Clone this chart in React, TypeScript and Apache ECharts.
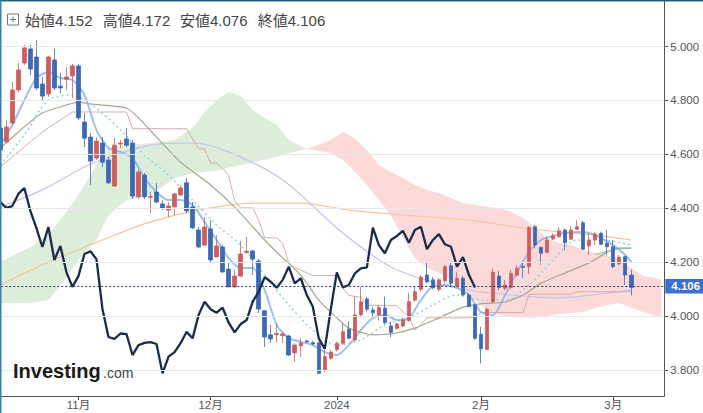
import React, { useEffect, useRef } from "react";
import * as echarts from "echarts";

// ---- categories (trading days as shown on the chart) ----
const monthDays: [string, number[]][] = [
  ["2023-10", [13, 16, 17, 18, 19, 20, 23, 24, 25, 26, 27, 30, 31]],
  ["2023-11", [1, 2, 3, 6, 7, 8, 9, 10, 13, 14, 15, 16, 17, 20, 21, 22, 23, 24, 27, 28, 29, 30]],
  ["2023-12", [1, 4, 5, 6, 7, 8, 11, 12, 13, 14, 15, 18, 19, 20, 21, 22, 25, 26, 27, 28, 29]],
  ["2024-01", [1, 2, 3, 4, 5, 8, 9, 10, 11, 12, 15, 16, 17, 18, 19, 21, 22, 23, 24, 25, 26, 29, 30, 31]],
  ["2024-02", [1, 2, 4, 5, 6, 7, 8, 9, 12, 13, 14, 15, 16, 19, 20, 21, 22, 23, 26, 27, 28, 29]],
  ["2024-03", [1, 4, 5, 6, 7, 8, 11, 12, 13]],
];
const categories: string[] = monthDays.flatMap(([ym, days]) =>
  days.map((d) => `${ym}-${String(d).padStart(2, "0")}`)
);

// ---- candles ----
const opens = [4.697,4.646,4.716,4.839,4.939,4.991,4.961,4.861,4.824,4.950,
4.853,4.879,4.891,4.928,4.720,4.664,4.586,4.642,4.579,4.482,
4.638,4.657,4.642,4.442,4.523,4.441,4.460,4.416,4.393,4.405,
4.449,4.494,4.405,4.319,4.263,4.323,4.219,4.256,4.174,4.108,
4.148,4.235,4.241,4.204,4.019,3.930,3.931,3.928,3.926,3.863,
3.889,3.907,3.901,3.901,3.800,3.843,3.876,3.899,3.951,3.911,
4.004,4.063,4.022,4.004,4.029,3.963,3.954,3.963,3.983,4.059,
4.099,4.152,4.134,4.099,4.131,4.186,4.111,4.140,4.078,4.041,
3.932,3.876,4.053,4.148,4.103,4.106,4.152,4.185,4.183,4.331,
4.255,4.236,4.286,4.294,4.319,4.285,4.322,4.346,4.260,4.282,
4.307,4.270,4.257,4.193,4.220,4.152];
const closes = [4.616,4.701,4.839,4.913,4.995,4.917,4.846,4.816,4.961,4.846,
4.846,4.887,4.928,4.735,4.660,4.575,4.649,4.571,4.494,4.634,
4.642,4.634,4.445,4.534,4.442,4.443,4.423,4.401,4.408,4.453,
4.475,4.390,4.327,4.256,4.330,4.208,4.260,4.163,4.108,4.148,
4.230,4.240,4.211,4.026,3.922,3.915,3.935,3.933,3.855,3.892,
3.900,3.903,3.896,3.787,3.849,3.866,3.899,3.941,3.917,4.004,
4.053,4.025,4.012,4.031,3.975,3.939,3.970,3.985,4.053,4.090,
4.144,4.127,4.105,4.134,4.183,4.121,4.140,4.078,4.035,3.917,
3.878,4.025,4.162,4.106,4.115,4.158,4.177,4.180,4.328,4.263,
4.233,4.282,4.297,4.316,4.272,4.319,4.331,4.248,4.282,4.304,
4.266,4.257,4.183,4.218,4.152,4.106];
const lows = [4.605,4.642,4.709,4.831,4.931,4.894,4.839,4.801,4.813,4.839,
4.827,4.839,4.809,4.727,4.627,4.486,4.579,4.553,4.490,4.479,
4.623,4.627,4.434,4.434,4.434,4.382,4.419,4.393,4.367,4.375,
4.445,4.382,4.323,4.252,4.260,4.200,4.219,4.160,4.108,4.104,
4.145,4.234,4.152,4.011,3.885,3.900,3.900,3.900,3.852,3.829,
3.848,3.900,3.892,3.785,3.792,3.837,3.868,3.892,3.915,3.905,
3.998,4.016,4.000,3.983,3.970,3.921,3.950,3.959,3.979,4.053,
4.090,4.121,4.099,4.090,4.121,4.106,4.106,4.072,4.032,3.911,
3.824,3.874,4.047,4.096,4.096,4.099,4.146,4.141,4.156,4.251,
4.189,4.233,4.282,4.292,4.245,4.282,4.319,4.245,4.226,4.263,
4.263,4.226,4.177,4.189,4.115,4.076];
const highs = [4.708,4.727,4.868,4.939,5.006,5.006,5.024,4.887,4.965,4.991,
4.902,4.924,4.935,4.935,4.753,4.679,4.664,4.664,4.590,4.660,
4.653,4.698,4.653,4.542,4.531,4.460,4.494,4.430,4.423,4.457,
4.486,4.512,4.423,4.330,4.367,4.356,4.300,4.263,4.197,4.171,
4.278,4.293,4.245,4.211,4.022,3.967,3.974,3.937,3.930,3.900,
3.918,3.911,3.907,3.903,3.874,3.874,3.905,3.970,3.980,4.072,
4.108,4.072,4.033,4.041,4.072,3.979,3.975,3.993,4.085,4.109,
4.152,4.201,4.144,4.141,4.189,4.201,4.164,4.148,4.084,4.045,
3.960,4.032,4.177,4.168,4.134,4.171,4.189,4.197,4.334,4.338,
4.257,4.294,4.307,4.329,4.325,4.334,4.356,4.354,4.307,4.313,
4.313,4.319,4.282,4.226,4.223,4.172];

// chikou span: closes plotted 26 sessions back
const chikouShift = 26;

// ---- Ichimoku cloud (senkou spans) ----
const kumoSlot = [0,5,8,10,13,16,18,21,25,29,32,34,36,38,40,42,44,46,48,51,
55,57,59,61,63,65,67,69,71,73,75,77,79,81,83,85,87,89,91,93,95,97,99,101,103,105,107,109,110];
const senkouA = [4.200,4.256,4.301,4.356,4.449,4.560,4.623,4.635,4.642,4.653,4.698,4.757,4.801,4.831,4.816,4.764,4.735,4.709,4.653,4.620,
4.605,4.579,4.534,4.486,4.430,4.375,4.289,4.215,4.178,4.160,4.134,4.104,4.059,4.022,4.004,3.996,3.993,3.993,4.000,4.007,4.011,4.015,4.030,4.041,4.048,4.030,4.015,4.000,3.996];
const senkouB = [4.048,4.048,4.059,4.115,4.208,4.282,4.375,4.430,4.449,4.512,4.530,4.535,4.540,4.550,4.560,4.570,4.580,4.592,4.605,4.620,
4.653,4.683,4.660,4.616,4.560,4.534,4.512,4.486,4.468,4.456,4.438,4.419,4.412,4.404,4.401,4.386,4.364,4.327,4.289,4.271,4.263,4.245,4.234,4.226,4.208,4.178,4.148,4.141,4.134];

// ---- indicator lines: [slot, value] ----
const kijun = [[0,4.553],[7,4.683],[12,4.757],[21,4.757],[22,4.695],[31,4.695],[32,4.657],[33,4.620],[34,4.620],[35,4.567],[36,4.567],[37,4.548],[38,4.522],[39,4.428],[40,4.401],[42,4.401],[43,4.355],[44,4.290],[46,4.290],[47,4.270],[48,4.197],[49,4.180],[50,4.170],[52,4.150],[56,4.150],[57,4.104],[58,4.076],[60,4.070],[61,4.040],[66,4.039],[67,4.015],[68,3.998],[69,3.947],[70,3.968],[71,3.993],[78,3.993],[79,3.997],[80,4.013],[87,4.013],[88,4.079],[89,4.081],[95,4.081],[96,4.090],[105,4.090]];
const lightBlue = [[0,4.635],[2,4.709],[4,4.801],[6,4.883],[8,4.905],[10,4.883],[12,4.876],[14,4.820],[16,4.690],[18,4.623],[20,4.609],[22,4.586],[24,4.512],[26,4.460],[28,4.430],[30,4.430],[32,4.412],[34,4.349],[36,4.282],[38,4.215],[40,4.178],[42,4.178],[44,4.096],[46,3.967],[48,3.918],[50,3.904],[52,3.892],[54,3.866],[56,3.855],[58,3.892],[60,3.948],[62,3.993],[64,4.004],[66,3.985],[68,3.993],[70,4.059],[72,4.111],[74,4.115],[76,4.104],[78,4.078],[80,4.015],[82,4.004],[84,4.078],[86,4.163],[88,4.237],[90,4.282],[92,4.297],[94,4.308],[96,4.312],[98,4.308],[100,4.289],[102,4.263],[104,4.226],[105,4.200]];
const cyanDotted = [[0,4.560],[4,4.672],[8,4.801],[12,4.820],[16,4.771],[20,4.690],[24,4.597],[28,4.523],[32,4.430],[36,4.338],[40,4.263],[44,4.152],[48,4.041],[52,3.948],[56,3.892],[60,3.911],[64,3.967],[68,3.993],[72,4.041],[76,4.078],[80,4.059],[84,4.059],[88,4.115],[92,4.208],[96,4.282],[100,4.282],[105,4.263]];
const olive = [[0,4.623],[3,4.683],[7,4.753],[11,4.783],[13,4.794],[15,4.787],[21,4.772],[23,4.735],[26,4.664],[30,4.571],[35,4.486],[39,4.404],[44,4.282],[47,4.215],[50,4.152],[53,4.059],[56,3.993],[58,3.955],[62,3.930],[65,3.933],[69,3.955],[73,3.993],[77,4.033],[80,4.045],[84,4.052],[87,4.078],[90,4.122],[94,4.160],[98,4.197],[101,4.237],[103,4.252],[105,4.252]];
const greenShort = [[99,4.228],[101,4.240],[103,4.250],[105,4.252]];
const lavender = [[0,4.404],[7,4.468],[14,4.553],[18,4.590],[25,4.634],[32,4.642],[38,4.609],[47,4.505],[57,4.308],[65,4.182],[72,4.126],[78,4.096],[85,4.078],[93,4.067],[100,4.082],[105,4.096]];
const orange = [[0,4.115],[8,4.200],[17,4.282],[25,4.349],[33,4.393],[42,4.419],[50,4.419],[58,4.393],[69,4.371],[78,4.356],[86,4.330],[93,4.312],[100,4.297],[105,4.282]];

// ---- axes ----
const yTicks = [3.8, 4.0, 4.2, 4.4, 4.6, 4.8, 5.0];

const FONT = "'Liberation Sans', 'Noto Sans CJK JP', sans-serif";

export default function App() {
  const ref = useRef<HTMLDivElement>(null);

  useEffect(() => {
    if (!ref.current) return;
    const chart = echarts.init(ref.current, null, { renderer: "svg" });

    const n = closes.length;
    const candles = opens.map((o, i) => [o, closes[i], lows[i], highs[i]]);
    const chikou = closes.slice(chikouShift).map((c, i) => [i, c]);
    const last = n - 1;

    // month label indices
    const labelIdx = new Set<number>();
    categories.forEach((c, i) => {
      if (i > 0 && c.slice(0, 7) !== categories[i - 1].slice(0, 7)) labelIdx.add(i);
    });
    const showAt = (i: number) => labelIdx.has(i);
    const fmtCat = (v: string) => {
      const m = parseInt(v.slice(5, 7), 10);
      return m === 1 ? v.slice(0, 4) : `${m}月`;
    };

    const rows = kumoSlot.map((s, i) => [s, senkouA[i], senkouB[i]]);
    const greenRows = rows.filter((r) => r[1] >= r[2]);
    const redRows = rows.filter((r) => r[2] >= r[1]);

    const lineBase = (name: string, data: number[][], color: string, width: number, extra: any = {}) => ({
      type: "line",
      name,
      data,
      showSymbol: false,
      symbol: "none",
      silent: true,
      z: 2,
      lineStyle: { color, width },
      ...extra,
    });

    const option: any = {
      animation: false,
      backgroundColor: "#ffffff",
      grid: {
        left: -2.7,
        right: 38.7,
        top: 1,
        bottom: 17,
        outerBoundsMode: "none",
        containLabel: false,
      },
      xAxis: {
        type: "category",
        data: categories,
        boundaryGap: true,
        axisLine: { show: true, lineStyle: { color: "#555", width: 1 } },
        axisTick: {
          show: true,
          interval: (i: number) => showAt(i),
          alignWithLabel: true,
          length: 4,
          lineStyle: { color: "#555" },
        },
        axisLabel: {
          interval: (i: number) => showAt(i),
          formatter: fmtCat,
          color: "#555",
          fontSize: 11.5,
          fontFamily: FONT,
          margin: 3,
        },
        splitLine: { show: false },
      },
      yAxis: {
        type: "value",
        position: "right",
        min: 3.703,
        max: 5.169,
        axisLine: { show: true, lineStyle: { color: "#555", width: 1 } },
        axisTick: { show: true, customValues: yTicks, length: 4, lineStyle: { color: "#555" } },
        axisLabel: {
          customValues: yTicks,
          formatter: (v: number) => v.toFixed(3),
          color: "#555",
          fontSize: 11.5,
          fontFamily: FONT,
          margin: 6,
        },
        splitLine: { show: false },
      },
      series: [
        {
          type: "custom",
          name: "kumo",
          silent: true,
          z: 1,
          data: [[0, 4]],
          encode: { x: 0, y: 1 },
          renderItem: (_params: any, api: any) => {
            const poly = (rs: number[][], top: number, bot: number) => {
              const pts = rs.map((r) => api.coord([r[0], r[top]]));
              for (let i = rs.length - 1; i >= 0; i--) pts.push(api.coord([rs[i][0], rs[i][bot]]));
              return pts;
            };
            return {
              type: "group",
              children: [
                { type: "polygon", shape: { points: poly(greenRows, 1, 2) }, style: { fill: "#dcedda" } },
                { type: "polygon", shape: { points: poly(redRows, 2, 1) }, style: { fill: "#fcdada" } },
              ],
            };
          },
        },
        lineBase("orange", orange, "#f2c79c", 1.2, {
          smooth: 0.3,
          markLine: {
            silent: true,
            symbol: ["none", "none"],
            label: { show: false },
            lineStyle: { color: "#e8e8e8", width: 1, type: "solid" },
            data: yTicks.map((v) => ({ yAxis: v })),
          },
        }),
        lineBase("lavender", lavender, "#c9c2ec", 1.2, { smooth: 0.3 }),
        lineBase("kijun", kijun, "#d9abab", 1),
        lineBase("olive", olive, "#a8a68a", 1.2, { smooth: 0.2 }),
        lineBase("green", greenShort, "#8ccb8c", 1.2),
        lineBase("cyan", cyanDotted, "#86d6e8", 1.5, { smooth: 0.3, lineStyle: { color: "#86d6e8", width: 1.5, type: [2, 3] } }),
        lineBase("lightBlue", lightBlue, "rgba(135,175,235,0.8)", 2, { smooth: 0.25 }),
        {
          type: "candlestick",
          name: "price",
          data: candles,
          barWidth: 4,
          z: 3,
          silent: true,
          itemStyle: {
            color: "#cf5d5d",
            color0: "#3d69b6",
            borderColor: "#cf5d5d",
            borderColor0: "#3d69b6",
            borderWidth: 0.8,
          },
          markLine: {
            silent: true,
            symbol: ["none", "none"],
            lineStyle: { color: "#2b3d6b", width: 1, type: [2, 2] },
            label: {
              show: true,
              position: "end",
              distance: 1,
              formatter: closes[last].toFixed(3),
              backgroundColor: "#3c6fd4",
              color: "#ffffff",
              fontWeight: "bold",
              fontSize: 11.5,
              fontFamily: FONT,
              padding: [2, 6, 1, 6],
            },
            data: [{ yAxis: closes[last] }],
          },
        },
        {
          type: "line",
          name: "chikou",
          data: chikou,
          showSymbol: false,
          symbol: "none",
          silent: true,
          z: 4,
          lineStyle: { color: "#1b2b4b", width: 2.3 },
        },
      ],
      graphic: [
        { type: "rect", shape: { x: 0, y: 0, width: 703, height: 1.5 }, style: { fill: "#2a5d7c" }, z: 100 },
        { type: "rect", shape: { x: 0, y: 0, width: 1.5, height: 413 }, style: { fill: "#3b7fb3" }, z: 100 },
        {
          type: "rect",
          shape: { x: 7.5, y: 14, width: 11, height: 11 },
          style: { fill: "none", stroke: "#777", lineWidth: 1 },
          z: 100,
        },
        { type: "line", shape: { x1: 10, y1: 19.5, x2: 16, y2: 19.5 }, style: { stroke: "#777", lineWidth: 1 }, z: 100 },
        { type: "line", shape: { x1: 13, y1: 16.5, x2: 13, y2: 22.5 }, style: { stroke: "#777", lineWidth: 1 }, z: 100 },
        ...[
          ["始値", opens[last], 25],
          ["高値", highs[last], 102.7],
          ["安値", lows[last], 180],
          ["終値", closes[last], 257.7],
        ].map(([lab, v, x]) => ({
          type: "text",
          x: x as number,
          y: 20.5,
          z: 100,
          style: {
            text: `${lab}${(v as number).toFixed(3)}`,
            fill: "#444",
            fontSize: 15,
            fontFamily: FONT,
            verticalAlign: "middle",
          },
        })),
        {
          type: "text",
          x: 13,
          y: 370.5,
          z: 100,
          style: { text: "Investing", fill: "#1a1a1a", fontSize: 20, fontWeight: "bold", fontFamily: FONT, verticalAlign: "middle" },
        },
        {
          type: "text",
          x: 103,
          y: 373,
          z: 100,
          style: { text: ".com", fill: "#444", fontSize: 14, fontFamily: FONT, verticalAlign: "middle" },
        },
      ],
    };

    chart.setOption(option);
    return () => chart.dispose();
  }, []);

  return (
    <div
      ref={ref}
      style={{ position: "fixed", left: 0, top: 0, width: 703, height: 413, background: "#fff" }}
    />
  );
}
